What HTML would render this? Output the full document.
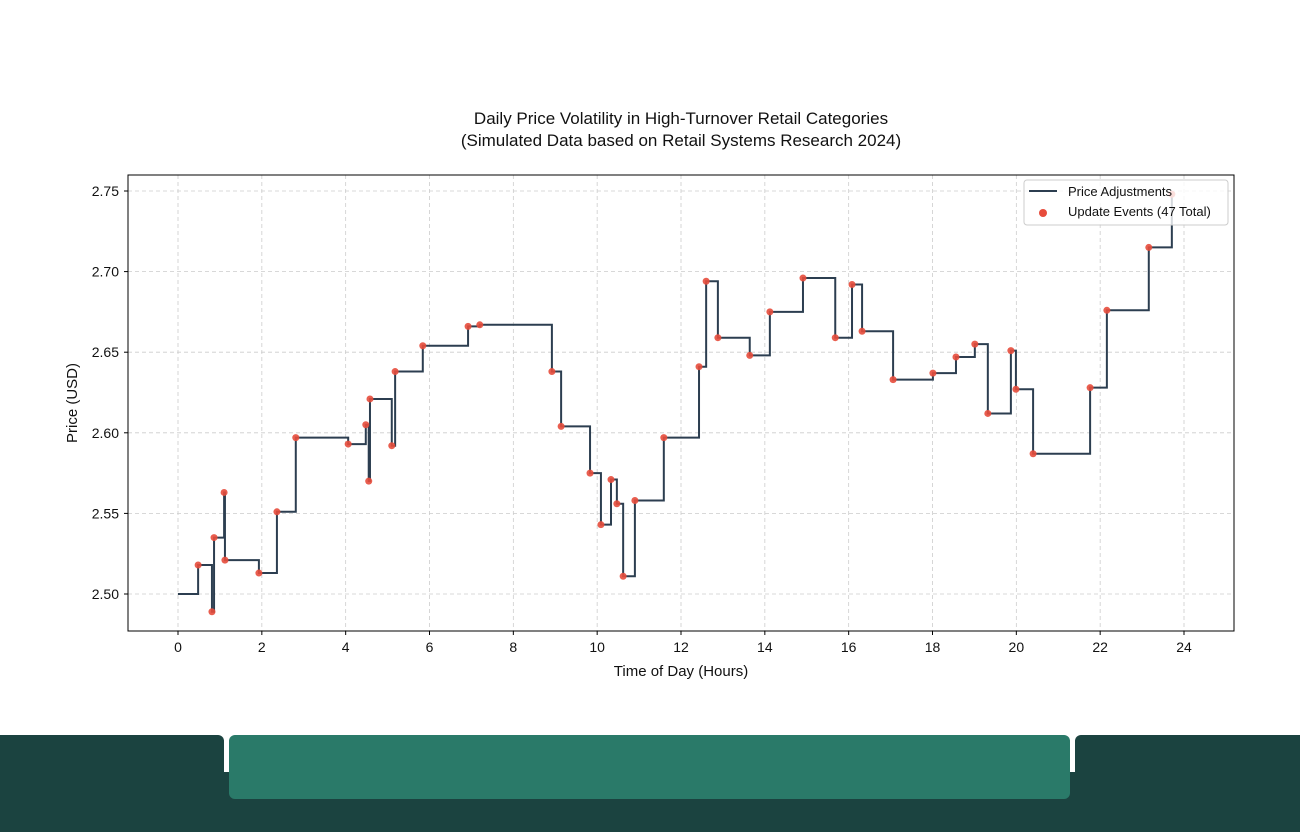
<!DOCTYPE html>
<html><head><meta charset="utf-8"><style>
body{margin:0;background:#fff;width:1300px;height:832px;overflow:hidden;position:relative;font-family:"Liberation Sans",sans-serif}
svg text{font-family:"Liberation Sans",sans-serif;fill:#111}
</style></head><body>
<svg id="chart" width="1300" height="832" style="position:absolute;left:0;top:0">
<text x="681" y="124" font-size="17" text-anchor="middle">Daily Price Volatility in High-Turnover Retail Categories</text>
<text x="681" y="146" font-size="17" text-anchor="middle">(Simulated Data based on Retail Systems Research 2024)</text>
<g id="grid"></g><g id="axes"></g><g id="series"></g>
<rect x="128" y="175" width="1106" height="456" fill="none" stroke="#000" stroke-width="1"/>
<g>
<rect x="1024" y="180" width="204" height="45" rx="3" fill="#fff" fill-opacity="0.8" stroke="#ccc"/>
<line x1="1029" y1="191" x2="1057" y2="191" stroke="#2c3e50" stroke-width="2"/>
<text x="1068" y="196" font-size="13">Price Adjustments</text>
<circle cx="1043" cy="213" r="4" fill="#e74c3c"/>
<text x="1068" y="216" font-size="13">Update Events (47 Total)</text>
</g>
<text x="681" y="676" font-size="15" text-anchor="middle">Time of Day (Hours)</text>
<text x="77" y="403" font-size="15" text-anchor="middle" transform="rotate(-90 77 403)">Price (USD)</text>
</svg>
<div style="position:absolute;left:0;top:772px;width:1300px;height:60px;background:#1b4340"></div>
<div style="position:absolute;left:0;top:735px;width:224px;height:97px;background:#1b4340;border-radius:0 6px 0 0"></div>
<div style="position:absolute;left:1075px;top:735px;width:225px;height:97px;background:#1b4340;border-radius:6px 0 0 0"></div>
<div style="position:absolute;left:229px;top:735px;width:841px;height:64px;background:#2a7a69;border-radius:6px"></div>
<script>
const times=[0.48,0.81,0.86,1.10,1.12,1.93,2.36,2.81,4.06,4.48,4.55,4.58,5.10,5.18,5.84,6.92,7.20,8.92,9.14,9.83,10.09,10.33,10.47,10.62,10.90,11.59,12.43,12.60,12.88,13.64,14.12,14.91,15.68,16.08,16.32,17.06,18.01,18.56,19.01,19.32,19.87,19.99,20.40,21.76,22.16,23.16,23.71];
const prices=[2.518,2.489,2.535,2.563,2.521,2.513,2.551,2.597,2.593,2.605,2.570,2.621,2.592,2.638,2.654,2.666,2.667,2.638,2.604,2.575,2.543,2.571,2.556,2.511,2.558,2.597,2.641,2.694,2.659,2.648,2.675,2.696,2.659,2.692,2.663,2.633,2.637,2.647,2.655,2.612,2.651,2.627,2.587,2.628,2.676,2.715,2.748];
const startPrice=2.50;
const xTicks=[0,2,4,6,8,10,12,14,16,18,20,22,24];
const yTicks=[2.50,2.55,2.60,2.65,2.70,2.75];
const X=h=>178+h*(1184-178)/24;
const Y=p=>594-(p-2.5)*(594-191)/0.25;
const NS='http://www.w3.org/2000/svg';
function mk(t,a,parent){const e=document.createElementNS(NS,t);for(const k in a)e.setAttribute(k,a[k]);document.getElementById(parent).appendChild(e);return e;}
xTicks.forEach(v=>{
 const g=mk('line',{x1:X(v),x2:X(v),y1:175,y2:631,stroke:'#ccc','stroke-dasharray':'4,3','stroke-width':0.8},'grid');
 
 
 const t=mk('line',{x1:X(v),x2:X(v),y1:631,y2:635,stroke:'#000'},'axes');
 
 
 const l=mk('text',{x:X(v),y:652,'font-size':14,'text-anchor':'middle'},'axes');l.textContent=v;
 
 
});
yTicks.forEach(v=>{
 const g=mk('line',{x1:128,x2:1234,y1:Y(v),y2:Y(v),stroke:'#ccc','stroke-dasharray':'4,3','stroke-width':0.8},'grid');
 
 
 const t=mk('line',{x1:124,x2:128,y1:Y(v),y2:Y(v),stroke:'#000'},'axes');
 
 
 const l=mk('text',{x:119,y:Y(v)+5,'font-size':14,'text-anchor':'end'},'axes');l.textContent=v.toFixed(2);
 
 
});
let d='M'+X(0)+','+Y(startPrice);let prev=startPrice;
times.forEach((t,i)=>{d+=' L'+X(t)+','+Y(prev)+' L'+X(t)+','+Y(prices[i]);prev=prices[i];});
const p=mk('path',{d:d,fill:'none',stroke:'#2c3e50','stroke-width':2},'series');


times.forEach((t,i)=>{
 const c=mk('circle',{cx:X(t),cy:Y(prices[i]),r:3.5,fill:'#e74c3c','fill-opacity':0.9},'series');
 
 
});
</script>
</body></html>
